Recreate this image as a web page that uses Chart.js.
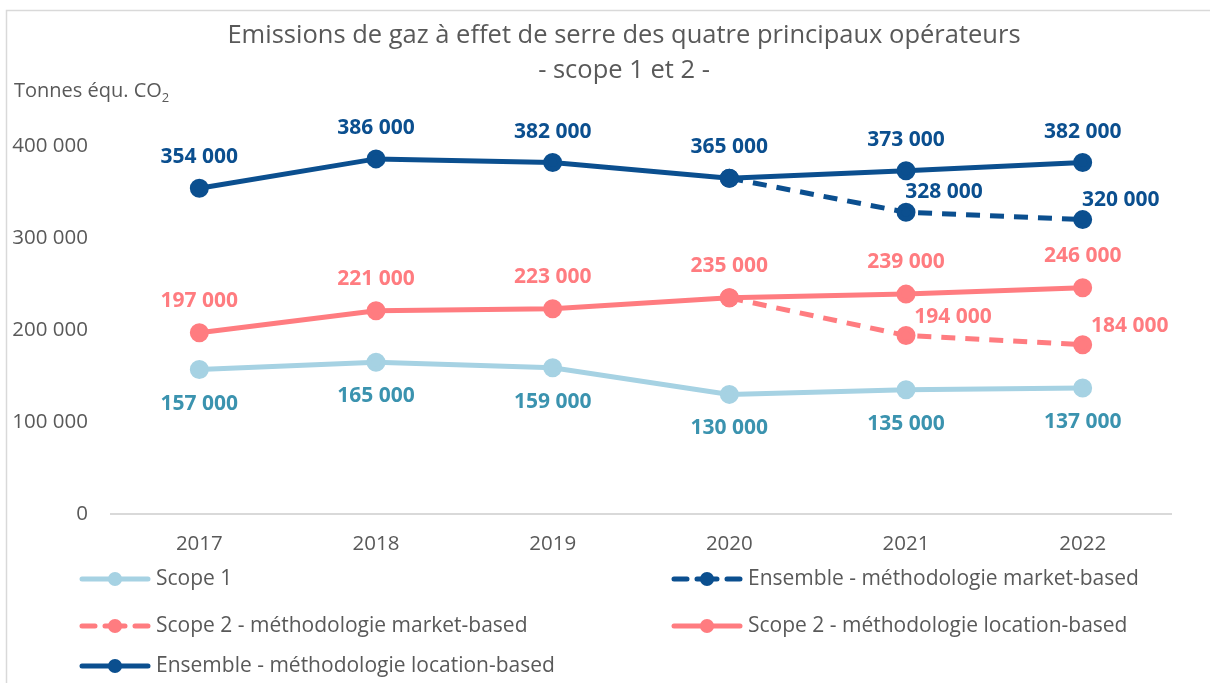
<!DOCTYPE html>
<html>
<head>
<meta charset="utf-8">
<script src="https://cdn.jsdelivr.net/npm/chart.js@4.4.1/dist/chart.umd.min.js"></script>
<style>
  html, body { margin: 0; padding: 0; background: #fff; }
  canvas { display: block; }
</style>
</head>
<body>
<canvas id="ghgChart" width="1210" height="683"></canvas>
<script>
const years = ['2017', '2018', '2019', '2020', '2021', '2022'];
const scope1 = [157000, 165000, 159000, 130000, 135000, 137000];
const scope2Market = [null, null, null, 235000, 194000, 184000];
const scope2Location = [197000, 221000, 223000, 235000, 239000, 246000];
const totalMarket = [null, null, null, 365000, 328000, 320000];
const totalLocation = [354000, 386000, 382000, 365000, 373000, 382000];
const yTicks = [0, 100000, 200000, 300000, 400000];

const FONT = '"Open Sans", "Noto Sans", sans-serif';
const GREY = '#595959';
const DARK_BLUE = '#0b4f8f';
const PINK = '#ff7c80';
const LIGHT_BLUE = '#a6d2e3';

// 354000 -> "354 000"
function fmt(v) {
  if (v === 0) return '0';
  const k = Math.floor(v / 1000);
  const r = String(v % 1000).padStart(3, '0');
  return k + ' ' + r;
}

const labelsPlugin = {
  id: 'pointLabels',
  afterDatasetsDraw(chart) {
    const ctx = chart.ctx;
    ctx.save();
    ctx.font = 'bold 21px ' + FONT;
    ctx.textAlign = 'center';
    ctx.textBaseline = 'middle';
    chart.data.datasets.forEach((ds, i) => {
      const meta = chart.getDatasetMeta(i);
      ctx.fillStyle = ds.labelColor;
      meta.data.forEach((pt, j) => {
        const v = ds.data[j];
        if (v == null || ds.labelSkip.includes(j)) return;
        ctx.fillText(fmt(v), pt.x + ds.labelDx, pt.y + ds.labelDy);
      });
    });
    ctx.restore();
  }
};

const decorPlugin = {
  id: 'decor',
  afterDraw(chart) {
    const ctx = chart.ctx;
    ctx.save();
    // frame
    ctx.strokeStyle = '#d9d9d9';
    ctx.lineWidth = 1.5;
    ctx.beginPath();
    ctx.moveTo(1212, 10.5);
    ctx.lineTo(6.5, 10.5);
    ctx.lineTo(6.5, 690);
    ctx.stroke();

    // title
    ctx.fillStyle = GREY;
    ctx.textAlign = 'center';
    ctx.textBaseline = 'middle';
    ctx.font = '25.5px ' + FONT;
    ctx.fillText('Emissions de gaz à effet de serre des quatre principaux opérateurs', 624, 36);
    ctx.fillText('- scope 1 et 2 -', 624, 71);

    // unit label
    ctx.textAlign = 'left';
    ctx.font = '20px ' + FONT;
    const base = 'Tonnes équ. CO';
    ctx.fillText(base, 14, 91);
    const w = ctx.measureText(base).width;
    ctx.font = '13px ' + FONT;
    ctx.fillText('2', 14 + w, 98);

    // legend, two columns
    const cells = [
      { ds: 0, x: 80, y: 579 },
      { ds: 3, x: 672, y: 579 },
      { ds: 1, x: 80, y: 626 },
      { ds: 2, x: 672, y: 626 },
      { ds: 4, x: 80, y: 666 }
    ];
    cells.forEach(c => {
      const ds = chart.data.datasets[c.ds];
      const x1 = c.x, x2 = c.x + 70, mid = c.x + 35;
      ctx.strokeStyle = ds.borderColor;
      ctx.fillStyle = ds.borderColor;
      ctx.lineWidth = 5;
      ctx.lineCap = 'round';
      ctx.beginPath();
      if (ds.borderDash && ds.borderDash.length) {
        ctx.moveTo(x1 + 2, c.y); ctx.lineTo(x1 + 15, c.y);
        ctx.moveTo(x2 - 15, c.y); ctx.lineTo(x2 - 2, c.y);
        ctx.moveTo(mid - 10, c.y); ctx.lineTo(mid + 10, c.y);
      } else {
        ctx.moveTo(x1 + 2, c.y); ctx.lineTo(x2 - 2, c.y);
      }
      ctx.stroke();
      ctx.beginPath();
      ctx.arc(mid, c.y, 7, 0, Math.PI * 2);
      ctx.fill();
      ctx.fillStyle = GREY;
      ctx.font = '21px ' + FONT;
      ctx.textBaseline = 'middle';
      ctx.fillText(ds.label, x2 + 6, c.y);
    });
    ctx.restore();
  }
};

function series(label, data, color, labelColor, dashed, dx, dy, skip) {
  return {
    label: label,
    data: data,
    borderColor: color,
    backgroundColor: color,
    pointBackgroundColor: color,
    pointBorderColor: color,
    borderWidth: 5,
    borderDash: dashed ? [14, 10] : [],
    pointRadius: 7,
    pointHoverRadius: 7,
    tension: 0,
    spanGaps: false,
    labelColor: labelColor,
    labelDx: dx,
    labelDy: dy,
    labelSkip: skip || []
  };
}

const ctx = document.getElementById('ghgChart').getContext('2d');
const chart = new Chart(ctx, {
  type: 'line',
  data: {
    labels: years,
    datasets: [
      series('Scope 1', scope1, LIGHT_BLUE, '#3b93af', false, 0, 34),
      series('Scope 2 - méthodologie market-based', scope2Market, PINK, PINK, true, 47, -19, [3]),
      series('Scope 2 - méthodologie location-based', scope2Location, PINK, PINK, false, 0, -32),
      series('Ensemble - méthodologie market-based', totalMarket, DARK_BLUE, DARK_BLUE, true, 38, -20, [3]),
      series('Ensemble - méthodologie location-based', totalLocation, DARK_BLUE, DARK_BLUE, false, 0, -31)
    ]
  },
  options: {
    responsive: false,
    animation: false,
    layout: { padding: { left: 0, right: 39, top: 146, bottom: 109 } },
    plugins: {
      legend: { display: false },
      title: { display: false },
      tooltip: { enabled: false }
    },
    scales: {
      x: {
        offset: true,
        grid: { display: false, drawTicks: false },
        border: { display: true, color: '#d9d9d9', width: 2 },
        ticks: { color: GREY, font: { family: FONT, size: 20.5 }, padding: 18, maxRotation: 0 },
        afterFit: s => { s.height = 60; }
      },
      y: {
        min: 0,
        max: 400000,
        grid: { display: false, drawTicks: false },
        border: { display: false },
        afterBuildTicks: s => { s.ticks = yTicks.map(v => ({ value: v })); },
        ticks: {
          color: GREY,
          font: { family: FONT, size: 20.5 },
          padding: 23,
          callback: v => fmt(v)
        },
        afterFit: s => { s.width = 111; }
      }
    }
  },
  plugins: [labelsPlugin, decorPlugin]
});
</script>
</body>
</html>
